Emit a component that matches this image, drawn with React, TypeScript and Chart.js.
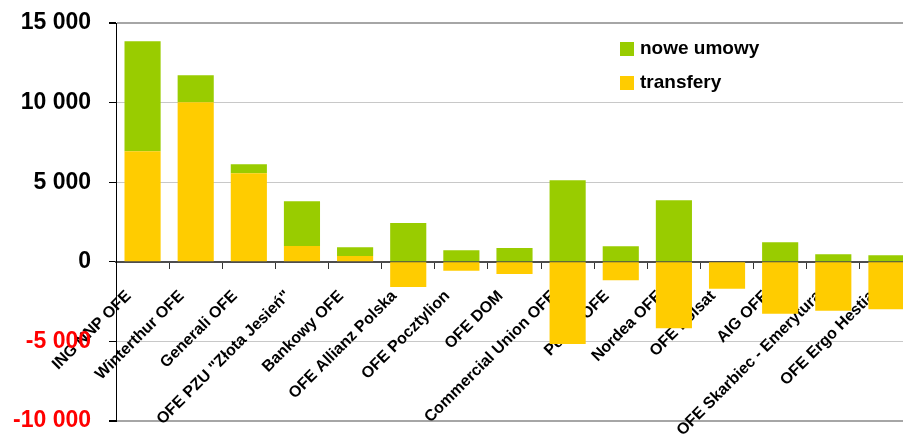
import React, { useEffect, useRef } from "react";
import { Chart, registerables } from "chart.js";

Chart.register(...registerables);

const categories: string[] = [
  "ING NNP OFE",
  "Winterthur OFE",
  "Generali OFE",
  'OFE PZU "Złota Jesień"',
  "Bankowy OFE",
  "OFE Allianz Polska",
  "OFE Pocztylion",
  "OFE DOM",
  "Commercial Union OFE",
  "Pekao OFE",
  "Nordea OFE",
  "OFE Polsat",
  "AIG OFE",
  "OFE Skarbiec - Emerytura",
  "OFE Ergo Hestia",
];

const transfery: number[] = [6950, 10020, 5560, 1000, 370, -1580, -570, -760, -5160, -1160, -4170, -1700, -3270, -3080, -2980];
const noweUmowy: number[] = [6900, 1700, 570, 2800, 550, 2430, 730, 870, 5120, 980, 3870, 0, 1230, 480, 410];

const yMin = -10000;
const yMax = 15000;
const yStep = 5000;

const GREEN = "#99cc00";
const YELLOW = "#ffcc00";
const FONT = "'Liberation Sans', Arial, sans-serif";

const fmt = (v: number): string => {
  const s = Math.abs(v).toString().replace(/\B(?=(\d{3})+(?!\d))/g, " ");
  return (v < 0 ? "-" : "") + s;
};

const insideLegend = {
  id: "insideLegend",
  afterDraw(chart: any) {
    const ctx = chart.ctx as CanvasRenderingContext2D;
    const ds = [...chart.data.datasets].reverse();
    ctx.save();
    ctx.font = `bold 19px ${FONT}`;
    ctx.textBaseline = "middle";
    ctx.textAlign = "left";
    ds.forEach((d: any, i: number) => {
      const top = 42 + i * 34;
      ctx.fillStyle = d.backgroundColor;
      ctx.fillRect(620, top, 14, 14);
      ctx.fillStyle = "#000";
      ctx.fillText(d.label, 640, top + 7);
    });
    ctx.restore();
  },
};

export default function App() {
  const ref = useRef<HTMLCanvasElement | null>(null);

  useEffect(() => {
    if (!ref.current) return;
    const chart = new Chart(ref.current, {
      type: "bar",
      data: {
        labels: categories,
        datasets: [
          { label: "transfery", data: transfery, backgroundColor: YELLOW, borderWidth: 0 },
          { label: "nowe umowy", data: noweUmowy, backgroundColor: GREEN, borderWidth: 0 },
        ],
      },
      plugins: [insideLegend],
      options: {
        animation: false,
        responsive: true,
        maintainAspectRatio: false,
        layout: { padding: { top: 23, bottom: 14, left: 0, right: 0 } },
        datasets: { bar: { categoryPercentage: 1, barPercentage: 0.68 } },
        plugins: { legend: { display: false }, tooltip: { enabled: false } },
        scales: {
          x: {
            stacked: true,
            position: { y: 0 } as any,
            z: 1,
            ticks: {
              autoSkip: false,
              minRotation: 45,
              maxRotation: 45,
              color: "#000",
              font: { family: FONT, size: 16, weight: "bold" },
              padding: 19,
              labelOffset: -14,
            },
            grid: { drawOnChartArea: false, tickLength: 6, tickColor: "#333", offset: true },
            border: { color: "#4d4d4d", width: 2 },
            afterFit: (s: any) => {
              s.height = 0;
              s.paddingLeft = 0;
              s.paddingRight = 0;
              s.paddingTop = 0;
              s.paddingBottom = 0;
            },
          },
          y: {
            stacked: true,
            min: yMin,
            max: yMax,
            ticks: {
              stepSize: yStep,
              callback: (v: any) => fmt(Number(v)),
              color: (c: any) => (c.tick && c.tick.value < 0 ? "#ff0000" : "#000000"),
              font: { family: FONT, size: 23, weight: "bold" },
              padding: 18,
            },
            grid: {
              color: (c: any) => {
                const v = c.tick ? c.tick.value : null;
                if (v === 0) return "rgba(0,0,0,0)";
                if (v === yMax || v === yMin) return "#a6a6a6";
                return "#c8c8c8";
              },
              lineWidth: (c: any) => {
                const v = c.tick ? c.tick.value : null;
                return v === yMax || v === yMin ? 2 : 1;
              },
              tickLength: 7,
              tickColor: "#000",
            },
            border: { color: "#000", width: 1 },
            afterFit: (s: any) => {
              s.width = 116;
              s.paddingTop = 0;
              s.paddingBottom = 0;
            },
          },
        },
      },
    });
    return () => chart.destroy();
  }, []);

  return (
    <div style={{ position: "absolute", left: 0, top: 0, width: 903, height: 435, overflow: "hidden", background: "#fff" }}>
      <div style={{ position: "relative", width: 913, height: 435 }}>
        <canvas ref={ref} />
      </div>
    </div>
  );
}
